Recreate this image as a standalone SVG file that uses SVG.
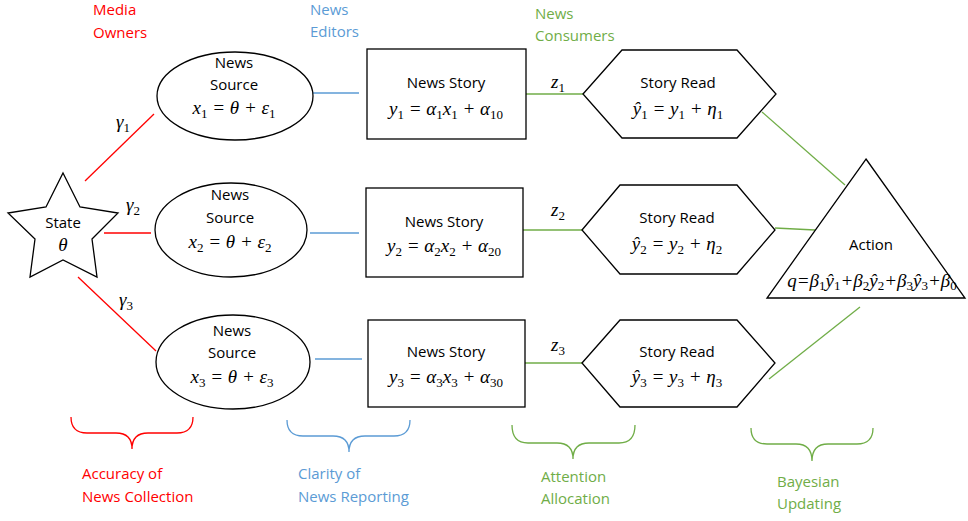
<svg xmlns="http://www.w3.org/2000/svg" width="968" height="521" viewBox="0 0 968 521">
<style>
.shape{fill:#fff;stroke:#000;stroke-width:1.3}
.lbl{font-family:"Open Sans","Liberation Sans",sans-serif;font-size:15px;fill:#000;text-anchor:middle}
.m{font-family:"Liberation Serif","DejaVu Serif",serif;font-style:italic;font-size:19px;fill:#000;text-anchor:middle}
.cap{font-family:"Open Sans","Liberation Sans",sans-serif;font-size:15px}
.red{fill:#FF0000}.blue{fill:#5B9BD5}.green{fill:#70AD47}
.lr{stroke:#FF0000;stroke-width:1.3;fill:none}
.lb{stroke:#5B9BD5;stroke-width:1.3;fill:none}
.lg{stroke:#70AD47;stroke-width:1.3;fill:none}
.up{font-style:normal;font-size:13px}
</style>
<rect width="968" height="521" fill="#fff"/>

<g id="connectors">
  <line class="lr" x1="85" y1="181" x2="154" y2="114"/>
  <line class="lr" x1="104" y1="233" x2="151" y2="233"/>
  <line class="lr" x1="78" y1="277" x2="156" y2="351"/>
  <line class="lb" x1="313" y1="93" x2="359" y2="93"/>
  <line class="lb" x1="310" y1="233" x2="359" y2="233"/>
  <line class="lb" x1="315" y1="359" x2="362" y2="359"/>
  <line class="lg" x1="526" y1="94" x2="583" y2="94"/>
  <line class="lg" x1="523" y1="230" x2="582" y2="230"/>
  <line class="lg" x1="525" y1="363" x2="582" y2="363"/>
  <line class="lg" x1="762" y1="112" x2="845" y2="185"/>
  <line class="lg" x1="775" y1="228" x2="815" y2="230"/>
  <line class="lg" x1="769" y1="379" x2="860" y2="307"/>
  <text class="m" x="123" y="128">γ<tspan class="up" dy="4">1</tspan></text>
  <text class="m" x="133" y="211">γ<tspan class="up" dy="4">2</tspan></text>
  <text class="m" x="126" y="306">γ<tspan class="up" dy="4">3</tspan></text>
  <text class="m" x="558" y="88">z<tspan class="up" dy="4">1</tspan></text>
  <text class="m" x="558" y="216">z<tspan class="up" dy="4">2</tspan></text>
  <text class="m" x="558" y="351">z<tspan class="up" dy="4">3</tspan></text>
</g>

<g id="state">
  <polygon class="shape" points="63,173 80,207 118,213 92,239 97,277 63,260 30,277 35,239 8,213 46,207"/>
  <text class="lbl" x="63" y="228">State</text>
  <text class="m" x="63" y="251">θ</text>
</g>

<g id="source1">
  <ellipse class="shape" cx="235" cy="96" rx="78" ry="44"/>
  <text class="lbl" x="234" y="68">News</text>
  <text class="lbl" x="234" y="90">Source</text>
  <text class="m" x="234" y="114">x<tspan class="up" dy="4">1</tspan><tspan dy="-4"> = θ + ε</tspan><tspan class="up" dy="4">1</tspan></text>
</g>
<g id="source2">
  <ellipse class="shape" cx="231" cy="230" rx="76" ry="47"/>
  <text class="lbl" x="230" y="200">News</text>
  <text class="lbl" x="230" y="223">Source</text>
  <text class="m" x="230" y="248">x<tspan class="up" dy="4">2</tspan><tspan dy="-4"> = θ + ε</tspan><tspan class="up" dy="4">2</tspan></text>
</g>
<g id="source3">
  <ellipse class="shape" cx="233" cy="362" rx="77" ry="47"/>
  <text class="lbl" x="232" y="336">News</text>
  <text class="lbl" x="232" y="358">Source</text>
  <text class="m" x="232" y="383">x<tspan class="up" dy="4">3</tspan><tspan dy="-4"> = θ + ε</tspan><tspan class="up" dy="4">3</tspan></text>
</g>

<g id="story1">
  <rect class="shape" x="367" y="49" width="159" height="90"/>
  <text class="lbl" x="446" y="88">News Story</text>
  <text class="m" x="446" y="115">y<tspan class="up" dy="4">1</tspan><tspan dy="-4"> = α</tspan><tspan class="up" dy="4">1</tspan><tspan dy="-4">x</tspan><tspan class="up" dy="4">1</tspan><tspan dy="-4"> + α</tspan><tspan class="up" dy="4">10</tspan></text>
</g>
<g id="story2">
  <rect class="shape" x="366" y="188" width="157" height="89"/>
  <text class="lbl" x="444" y="227">News Story</text>
  <text class="m" x="444" y="252">y<tspan class="up" dy="4">2</tspan><tspan dy="-4"> = α</tspan><tspan class="up" dy="4">2</tspan><tspan dy="-4">x</tspan><tspan class="up" dy="4">2</tspan><tspan dy="-4"> + α</tspan><tspan class="up" dy="4">20</tspan></text>
</g>
<g id="story3">
  <rect class="shape" x="368" y="320" width="157" height="87"/>
  <text class="lbl" x="446" y="357">News Story</text>
  <text class="m" x="446" y="383">y<tspan class="up" dy="4">3</tspan><tspan dy="-4"> = α</tspan><tspan class="up" dy="4">3</tspan><tspan dy="-4">x</tspan><tspan class="up" dy="4">3</tspan><tspan dy="-4"> + α</tspan><tspan class="up" dy="4">30</tspan></text>
</g>

<g id="read1">
  <polygon class="shape" points="583,94 622,50 737,50 776,94 737,138 622,138"/>
  <text class="lbl" x="678" y="88">Story Read</text>
  <text class="m" x="678" y="115">ŷ<tspan class="up" dy="4">1</tspan><tspan dy="-4"> = y</tspan><tspan class="up" dy="4">1</tspan><tspan dy="-4"> + η</tspan><tspan class="up" dy="4">1</tspan></text>
</g>
<g id="read2">
  <polygon class="shape" points="582,230 620,185 737,185 775,230 737,274 620,274"/>
  <text class="lbl" x="677" y="223">Story Read</text>
  <text class="m" x="677" y="250">ŷ<tspan class="up" dy="4">2</tspan><tspan dy="-4"> = y</tspan><tspan class="up" dy="4">2</tspan><tspan dy="-4"> + η</tspan><tspan class="up" dy="4">2</tspan></text>
</g>
<g id="read3">
  <polygon class="shape" points="582,363 620,320 737,320 775,363 737,407 620,407"/>
  <text class="lbl" x="677" y="357">Story Read</text>
  <text class="m" x="677" y="383">ŷ<tspan class="up" dy="4">3</tspan><tspan dy="-4"> = y</tspan><tspan class="up" dy="4">3</tspan><tspan dy="-4"> + η</tspan><tspan class="up" dy="4">3</tspan></text>
</g>

<g id="action">
  <polygon class="shape" points="866,159 965,298 767,298"/>
  <text class="lbl" x="871" y="250">Action</text>
  <text class="m" x="872" y="287" font-size="18">q=β<tspan class="up" font-size="12" dy="3">1</tspan><tspan dy="-3">ŷ</tspan><tspan class="up" font-size="12" dy="3">1</tspan><tspan dy="-3">+β</tspan><tspan class="up" font-size="12" dy="3">2</tspan><tspan dy="-3">ŷ</tspan><tspan class="up" font-size="12" dy="3">2</tspan><tspan dy="-3">+β</tspan><tspan class="up" font-size="12" dy="3">3</tspan><tspan dy="-3">ŷ</tspan><tspan class="up" font-size="12" dy="3">3</tspan><tspan dy="-3">+β</tspan><tspan class="up" font-size="12" dy="3">0</tspan></text>
</g>

<g id="top-labels">
  <text class="cap red" x="93" y="15">Media</text>
  <text class="cap red" x="93" y="38">Owners</text>
  <text class="cap blue" x="310" y="15">News</text>
  <text class="cap blue" x="310" y="37">Editors</text>
  <text class="cap green" x="535" y="19">News</text>
  <text class="cap green" x="535" y="41">Consumers</text>
</g>

<g id="braces">
  <path class="lr" d="M71,417 Q71,433 87,433 L116,433 Q132,433 132,449 Q132,433 148,433 L177,433 Q193,433 193,417"/>
  <path class="lb" d="M287,420 Q287,436 303,436 L333,436 Q349,436 349,452 Q349,436 365,436 L394,436 Q410,436 410,420"/>
  <path class="lg" d="M512,425 Q512,443 528,443 L557,443 Q573,443 573,459 Q573,443 589,443 L619,443 Q635,443 635,425"/>
  <path class="lg" d="M751,428 Q751,444 767,444 L796,444 Q812,444 812,461 Q812,444 828,444 L857,444 Q873,444 873,428"/>
  <text class="cap red" x="82" y="479">Accuracy of</text>
  <text class="cap red" x="82" y="502">News Collection</text>
  <text class="cap blue" x="298" y="479">Clarity of</text>
  <text class="cap blue" x="298" y="502">News Reporting</text>
  <text class="cap green" x="541" y="482">Attention</text>
  <text class="cap green" x="541" y="504">Allocation</text>
  <text class="cap green" x="777" y="487">Bayesian</text>
  <text class="cap green" x="777" y="509">Updating</text>
</g>
</svg>
